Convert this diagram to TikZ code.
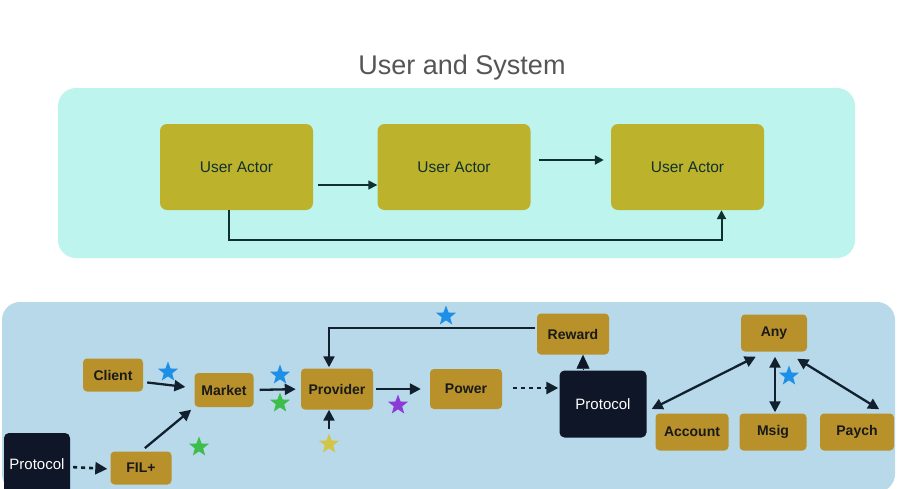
\documentclass[tikz,border=0pt]{standalone}
\usepackage{fontspec}
\setmainfont{Liberation Sans}
\usepackage{tikz}
\usetikzlibrary{arrows.meta,shapes.geometric}

\definecolor{panelhaut}{HTML}{BDF5EE}
\definecolor{panelbas}{HTML}{B7D9EA}
\definecolor{olive}{HTML}{BCB22C}
\definecolor{ocre}{HTML}{B8912B}
\definecolor{nuit}{HTML}{0E1628}
\definecolor{trait}{HTML}{12202E}
\definecolor{traithaut}{HTML}{10302E}
\definecolor{titre}{HTML}{555555}
\definecolor{bleu}{HTML}{1E8FE6}
\definecolor{vert}{HTML}{3DBE4A}
\definecolor{violet}{HTML}{8B3BD8}
\definecolor{jaune}{HTML}{D2C445}

\begin{document}
\begin{tikzpicture}[x=1pt,y=-1pt,
    actor/.style={fill=olive,rounded corners=7pt,minimum width=153pt,minimum height=86pt,
        text=traithaut,font=\fontsize{15.5}{18}\selectfont},
    bloc/.style={fill=ocre,rounded corners=4pt,inner sep=0pt,text=black!90,
        font=\bfseries\fontsize{14}{16}\selectfont},
    proto/.style={fill=nuit,rounded corners=5pt,inner sep=0pt,text=white,
        font=\fontsize{15}{18}\selectfont},
    flh/.style={draw=traithaut,line width=1.6pt,-{Triangle[length=9pt,width=9pt]}},
    fl/.style={draw=trait,line width=2.3pt,-{Triangle[length=11pt,width=11pt]}},
    fl2/.style={draw=trait,line width=2.3pt,{Triangle[length=11pt,width=11pt]}-{Triangle[length=11pt,width=11pt]}},
    pointille/.style={draw=trait,line width=2.6pt,dash pattern=on 4pt off 4pt,-{Triangle[length=12pt,width=12pt]}},
    etoile/.style={star,star points=5,star point ratio=2.4,inner sep=0pt,minimum size=21pt}]
    \useasboundingbox (0,0) rectangle (900,488);
    \fill[white] (0,0) rectangle (900,488);

    % Panneau du haut
    \node[text=titre,font=\fontsize{27}{30}\selectfont] (titre) at (462,68) {User and System};
    \fill[panelhaut,rounded corners=18pt] (58,88) rectangle (855,258);
    \node[actor] (ua1) at (236.5,167) {User Actor};
    \node[actor] (ua2) at (454,167) {User Actor};
    \node[actor] (ua3) at (687.5,167) {User Actor};
    \draw[flh,shorten <=5pt] ([yshift=-18pt]ua1.east) -- ([yshift=-18pt]ua2.west);
    \draw[flh,line width=2.4pt,shorten <=8pt,shorten >=7pt] ([yshift=7pt]ua2.east) -- ([yshift=7pt]ua3.west);
    \draw[flh,line width=2pt] ([xshift=-8pt]ua1.south) -- ++(0,30) -| ([xshift=34pt]ua3.south);

    % Panneau du bas
    \fill[panelbas,rounded corners=18pt] (2,302) rectangle (895,492);
    \node[bloc,minimum width=60pt,minimum height=33pt] (client) at (113,375) {Client};
    \node[bloc,minimum width=59pt,minimum height=34pt] (market) at (224,390) {Market};
    \node[bloc,minimum width=72pt,minimum height=41pt] (provider) at (337,389) {Provider};
    \node[bloc,minimum width=72pt,minimum height=40pt] (power) at (466,389) {Power};
    \node[bloc,minimum width=61pt,minimum height=33pt] (fil) at (141,468) {FIL+};
    \node[bloc,minimum width=72pt,minimum height=41pt] (reward) at (573,334) {Reward};
    \node[bloc,minimum width=66pt,minimum height=37pt] (any) at (774,333) {Any};
    \node[bloc,minimum width=73pt,minimum height=37pt] (account) at (692,432) {Account};
    \node[bloc,minimum width=67pt,minimum height=37pt] (msig) at (773,432) {Msig};
    \node[bloc,minimum width=74pt,minimum height=37pt] (paych) at (857,432) {Paych};
    \node[proto,minimum width=66pt,minimum height=62pt] (protoG) at (37,464) {Protocol};
    \node[proto,minimum width=87pt,minimum height=67pt] (protoC) at (603,404) {Protocol};

    % Etoiles
    \node[etoile,fill=bleu] (e1) at (446,316) {};
    \node[etoile,fill=bleu] (e2) at (168,372) {};
    \node[etoile,fill=bleu] (e3) at (280,375) {};
    \node[etoile,fill=vert] (e4) at (280,403) {};
    \node[etoile,fill=vert] (e5) at (199,447) {};
    \node[etoile,fill=violet] (e6) at (398,405) {};
    \node[etoile,fill=jaune] (e7) at (329,444) {};
    \node[etoile,fill=bleu] (e8) at (789,376) {};

    % Fleches
    \draw[fl,shorten <=4pt,shorten >=9pt] ([yshift=-7pt]client.east) -- ([yshift=2pt]market.west);
    \draw[fl,shorten <=5pt,shorten >=4pt] (fil.north) -- (market.south west);
    \draw[pointille,shorten <=3pt,shorten >=3pt] ([yshift=-3pt]protoG.east) -- ([yshift=-1pt]fil.west);
    \draw[fl,shorten <=6pt,shorten >=5pt] (market.east) -- (provider.west);
    \draw[fl,shorten <=3pt,shorten >=9pt] (provider.east) -- (power.west);
    \draw[pointille,shorten <=11pt,shorten >=1pt] ([yshift=1pt]power.east) -- ([yshift=16pt]protoC.west);
    \draw[fl,shorten <=2pt,shorten >=1pt] ([yshift=6pt]reward.west) -| ([xshift=-8pt]provider.north);
    \draw[fl,shorten <=4pt] (e7.north) -- ([xshift=-8pt]provider.south);
    \draw[draw=nuit,line width=0.5pt,-{Triangle[length=14pt,width=13pt]}] ([xshift=-20pt]protoC.north) -- ([xshift=-20pt]protoC.north |- reward.south);
    \draw[fl2] ([xshift=5pt,yshift=-5pt]protoC.east) -- ([xshift=15pt,yshift=-5pt]any.south west);
    \draw[fl2,shorten <=5pt,shorten >=1pt] ([xshift=1pt]any.south) -- ([xshift=2pt]msig.north);
    \draw[fl2] ([xshift=-10pt,yshift=-7pt]any.south east) -- ([xshift=-15pt,yshift=4pt]paych.north east);
\end{tikzpicture}
\end{document}
